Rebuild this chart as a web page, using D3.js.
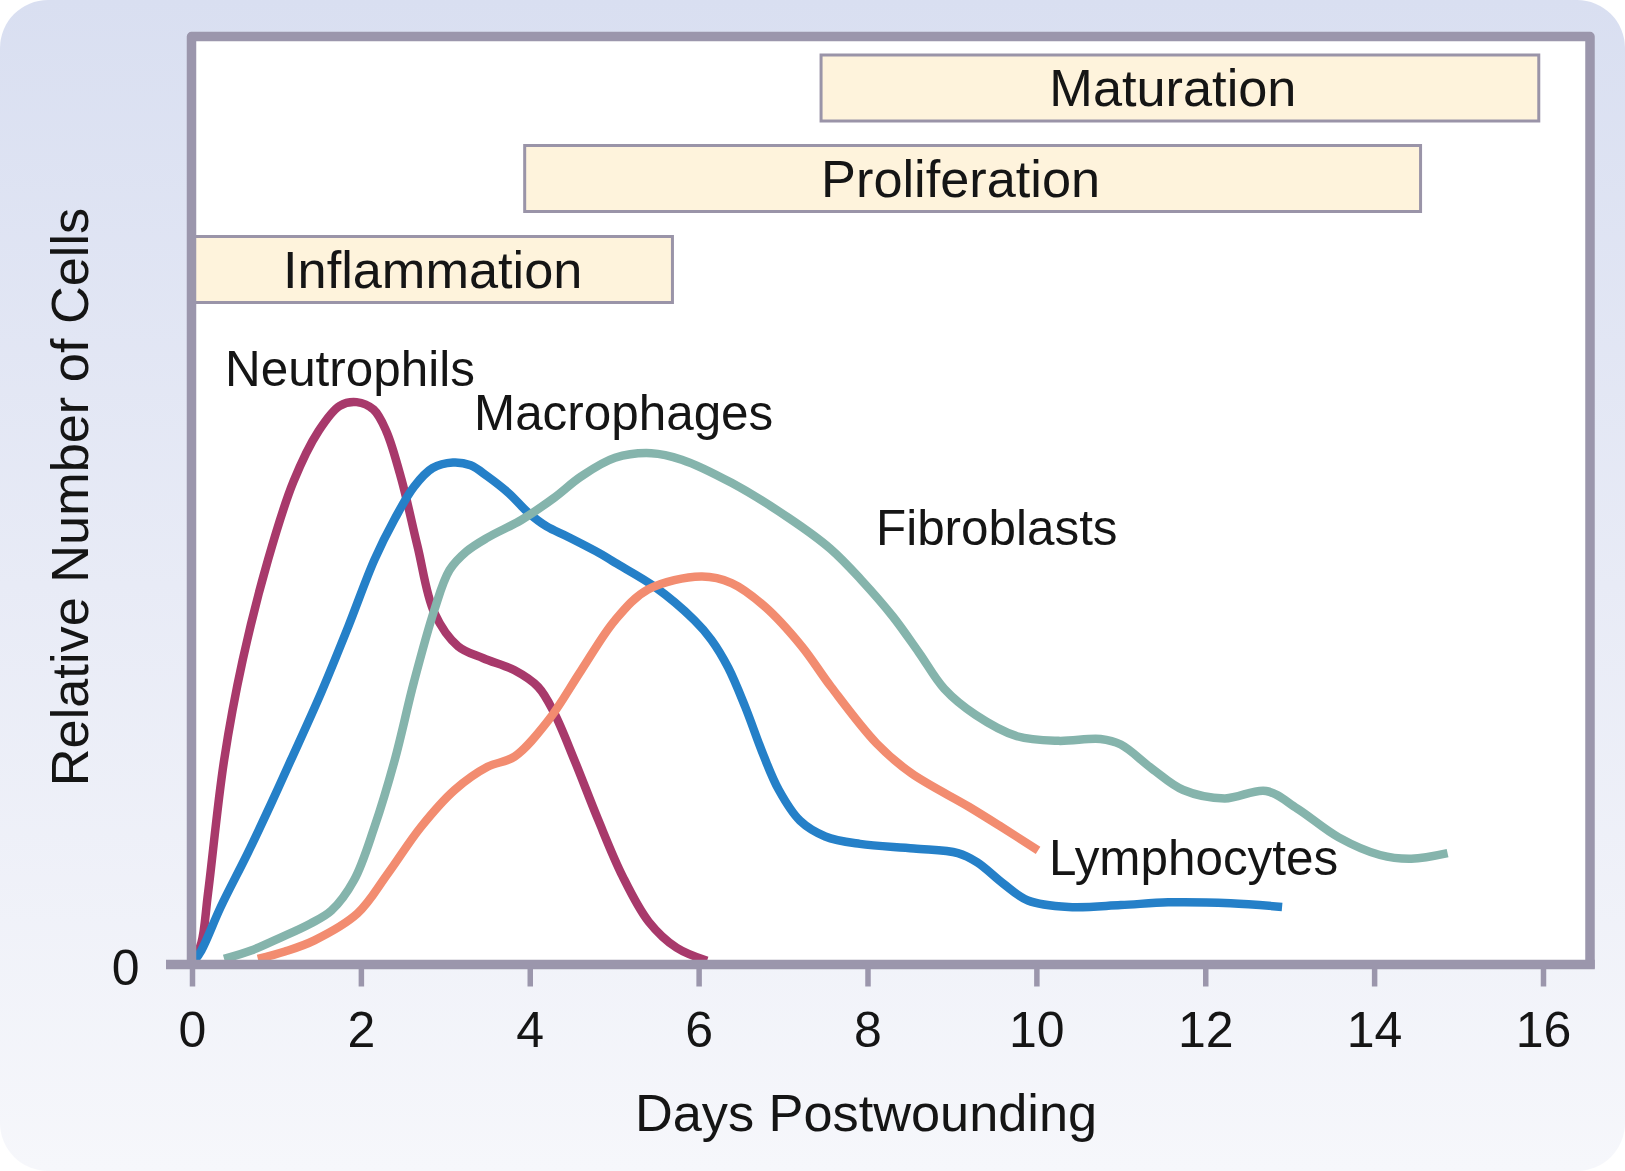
<!DOCTYPE html>
<html><head><meta charset="utf-8">
<script src="https://cdn.jsdelivr.net/npm/d3@7"></script>
<style>
html,body{margin:0;padding:0;background:#fff;}
svg{display:block;}
text{font-family:"Liberation Sans",Arial,Helvetica,sans-serif;fill:#151515;}
</style>
</head><body>
<svg id="chart" width="1625" height="1171"></svg>
<script>
// ---------- data ----------
const dayTicks = [0, 2, 4, 6, 8, 10, 12, 14, 16];
const yTicks = [0];
const xTitle = "Days Postwounding";
const yTitle = "Relative Number of Cells";

const phaseNames = ["Inflammation", "Proliferation", "Maturation"];
const phaseStart = [0, 3.94, 7.45];
const phaseEnd = [5.69, 14.55, 15.95];

const seriesNames = ["Neutrophils", "Macrophages", "Fibroblasts", "Lymphocytes"];

const neutrophils = [[0.02,0.5],[0.11,2.3],[0.19,7.7],[0.38,22.0],[0.6,32.8],[0.9,43.6],[1.2,52.0],[1.5,57.5],[1.75,60.2],[1.95,60.6],[2.15,59.8],[2.3,57.5],[2.48,52.3],[2.67,45.1],[2.87,37.9],[3.15,34.3],[3.45,33.0],[3.82,31.7],[4.1,29.9],[4.29,27.1],[4.53,22.0],[4.81,15.6],[5.1,9.5],[5.41,4.6],[5.74,1.8],[6.1,0.4]];

const macrophages = [[0.02,0.3],[0.11,1.5],[0.34,6.2],[0.66,12.0],[0.93,17.2],[1.17,22.0],[1.53,29.3],[1.85,36.4],[2.16,43.6],[2.4,48.0],[2.63,51.5],[2.85,53.5],[3.09,54.1],[3.3,53.8],[3.5,52.6],[3.75,50.8],[3.98,48.7],[4.2,47.2],[4.45,46.1],[4.85,44.2],[5.01,43.3],[5.48,40.7],[5.95,37.1],[6.15,35.0],[6.35,32.0],[6.55,27.8],[6.77,22.5],[6.95,18.8],[7.2,15.5],[7.5,13.8],[7.91,13.0],[8.55,12.5],[9.07,12.0],[9.3,11.0],[9.61,8.7],[9.9,6.9],[10.38,6.2],[11.0,6.4],[11.56,6.7],[12.3,6.6],[12.91,6.2]];

const fibroblasts = [[0.38,0.6],[0.7,1.5],[1.05,2.9],[1.4,4.4],[1.65,5.8],[1.92,9.1],[2.16,14.8],[2.4,22.0],[2.63,30.5],[2.87,38.2],[3.05,42.5],[3.25,44.5],[3.5,46.0],[3.9,47.9],[4.29,50.3],[4.61,52.6],[5.01,54.6],[5.44,55.1],[5.8,54.4],[6.39,51.9],[7.07,48.1],[7.56,44.8],[7.93,41.4],[8.3,37.5],[8.61,33.6],[8.91,29.7],[9.28,26.9],[9.77,24.6],[10.26,24.1],[10.76,24.3],[11.0,23.7],[11.37,21.1],[11.74,18.8],[12.23,17.9],[12.72,18.7],[13.09,16.8],[13.58,13.7],[14.07,11.8],[14.44,11.4],[14.87,12.0]];

const lymphocytes = [[0.78,0.6],[1.1,1.4],[1.45,2.6],[1.96,5.5],[2.32,9.8],[2.71,14.8],[3.11,18.8],[3.5,21.3],[3.82,22.4],[4.22,26.3],[4.61,31.7],[5.01,37.1],[5.4,40.4],[6.03,41.8],[6.39,41.1],[6.78,38.6],[7.22,34.3],[7.57,29.9],[8.11,23.8],[8.52,20.6],[9.2,17.0],[9.59,14.8],[10.02,12.3]];

// ---------- layout / style ----------
const W = 1625, H = 1171;
const frameColor = "#9b96ac";
const colors = ["#a8396b", "#2580c8", "#85b4ac", "#f28c70"];
const labelPos = [[225, 386], [474, 430], [876, 545], [1049, 875]];
const phaseLabelShift = [-1.5, -12, -7];

const svg = d3.select("#chart");
const defs = svg.append("defs");
const grad = defs.append("linearGradient").attr("id", "bg").attr("x1", 0).attr("y1", 0).attr("x2", 0).attr("y2", 1);
grad.append("stop").attr("offset", "0%").attr("stop-color", "#d9dff1");
grad.append("stop").attr("offset", "50%").attr("stop-color", "#e8ebf6");
grad.append("stop").attr("offset", "100%").attr("stop-color", "#f6f7fb");

svg.append("rect").attr("x", 0).attr("y", 0).attr("width", W).attr("height", H)
  .attr("rx", 48).attr("ry", 48).attr("fill", "url(#bg)");

const x = d3.scaleLinear().domain([0, 16]).range([192, 1543]);
const y = d3.scaleLinear().domain([0, 100]).range([964.5, 36.5]);

const fL = 191.5, fR = 1590, fT = 36.5, fB = 964.5;

// plot area
svg.append("rect").attr("x", fL).attr("y", fT).attr("width", fR - fL).attr("height", fB - fT).attr("fill", "#fff");

// phase boxes
const boxTop = [236.5, 145.5, 55];
const boxH = 66;
const phases = phaseNames.map((n, i) => ({name: n, s: phaseStart[i], e: phaseEnd[i], top: boxTop[i], shift: phaseLabelShift[i]}));
const pg = svg.append("g");
pg.selectAll("rect").data(phases).join("rect")
  .attr("x", d => x(d.s)).attr("y", d => d.top)
  .attr("width", d => x(d.e) - x(d.s)).attr("height", boxH)
  .attr("fill", "#fef3dc").attr("stroke", "#9a94a8").attr("stroke-width", 3);
pg.selectAll("text").data(phases).join("text")
  .attr("x", d => (Math.max(x(d.s), 196) + x(d.e)) / 2 + d.shift)
  .attr("y", d => d.top + 51)
  .attr("text-anchor", "middle").attr("font-size", 52.3).text(d => d.name);

// curves
const line = d3.line().x(d => x(d[0])).y(d => y(d[1])).curve(d3.curveCatmullRom.alpha(0.5));
const allSeries = [neutrophils, macrophages, fibroblasts, lymphocytes];
svg.append("g").selectAll("path").data(allSeries).join("path")
  .attr("d", line).attr("fill", "none")
  .attr("stroke", (d, i) => colors[i]).attr("stroke-width", 8.5)
  .attr("stroke-linecap", "butt").attr("stroke-linejoin", "round");

// series labels
svg.append("g").selectAll("text").data(seriesNames).join("text")
  .attr("x", (d, i) => labelPos[i][0]).attr("y", (d, i) => labelPos[i][1])
  .attr("font-size", 49.4).text(d => d);

// frame (left, top, right)
svg.append("path")
  .attr("d", `M${fL},${fB} L${fL},${fT} L${fR},${fT} L${fR},${fB + 4}`)
  .attr("fill", "none").attr("stroke", frameColor).attr("stroke-width", 9.5)
  .attr("stroke-linejoin", "round");

// x axis
const xAxis = svg.append("g").attr("transform", `translate(0,${fB})`)
  .call(d3.axisBottom(x).tickValues(dayTicks).tickSize(22).tickSizeOuter(0).tickFormat(d3.format("d")));
xAxis.select(".domain").remove();
xAxis.selectAll(".tick line").attr("stroke", frameColor).attr("stroke-width", 5.5);
xAxis.selectAll(".tick text").attr("y", 82).attr("dy", 0).attr("font-size", 50)
  .attr("fill", "#151515").attr("font-family", "'Liberation Sans',Arial,Helvetica,sans-serif");

// y axis (only zero)
const yAxis = svg.append("g").attr("transform", `translate(${fL},0)`)
  .call(d3.axisLeft(y).tickValues(yTicks).tickSize(25).tickSizeOuter(0).tickFormat(d3.format("d")));
yAxis.select(".domain").remove();
yAxis.selectAll(".tick line").remove();
yAxis.selectAll(".tick text").attr("x", -52).attr("dy", "0.4em").attr("font-size", 50)
  .attr("fill", "#151515").attr("font-family", "'Liberation Sans',Arial,Helvetica,sans-serif");

// baseline axis line extending left as zero tick
svg.append("line").attr("x1", 166).attr("x2", fR + 4.75).attr("y1", fB).attr("y2", fB)
  .attr("stroke", frameColor).attr("stroke-width", 9.5);

// titles
svg.append("text").attr("x", 866).attr("y", 1131).attr("text-anchor", "middle").attr("font-size", 52.3).text(xTitle);
svg.append("text").attr("transform", "translate(88,497) rotate(-90)").attr("text-anchor", "middle").attr("font-size", 52.3).text(yTitle);
</script>
</body></html>
